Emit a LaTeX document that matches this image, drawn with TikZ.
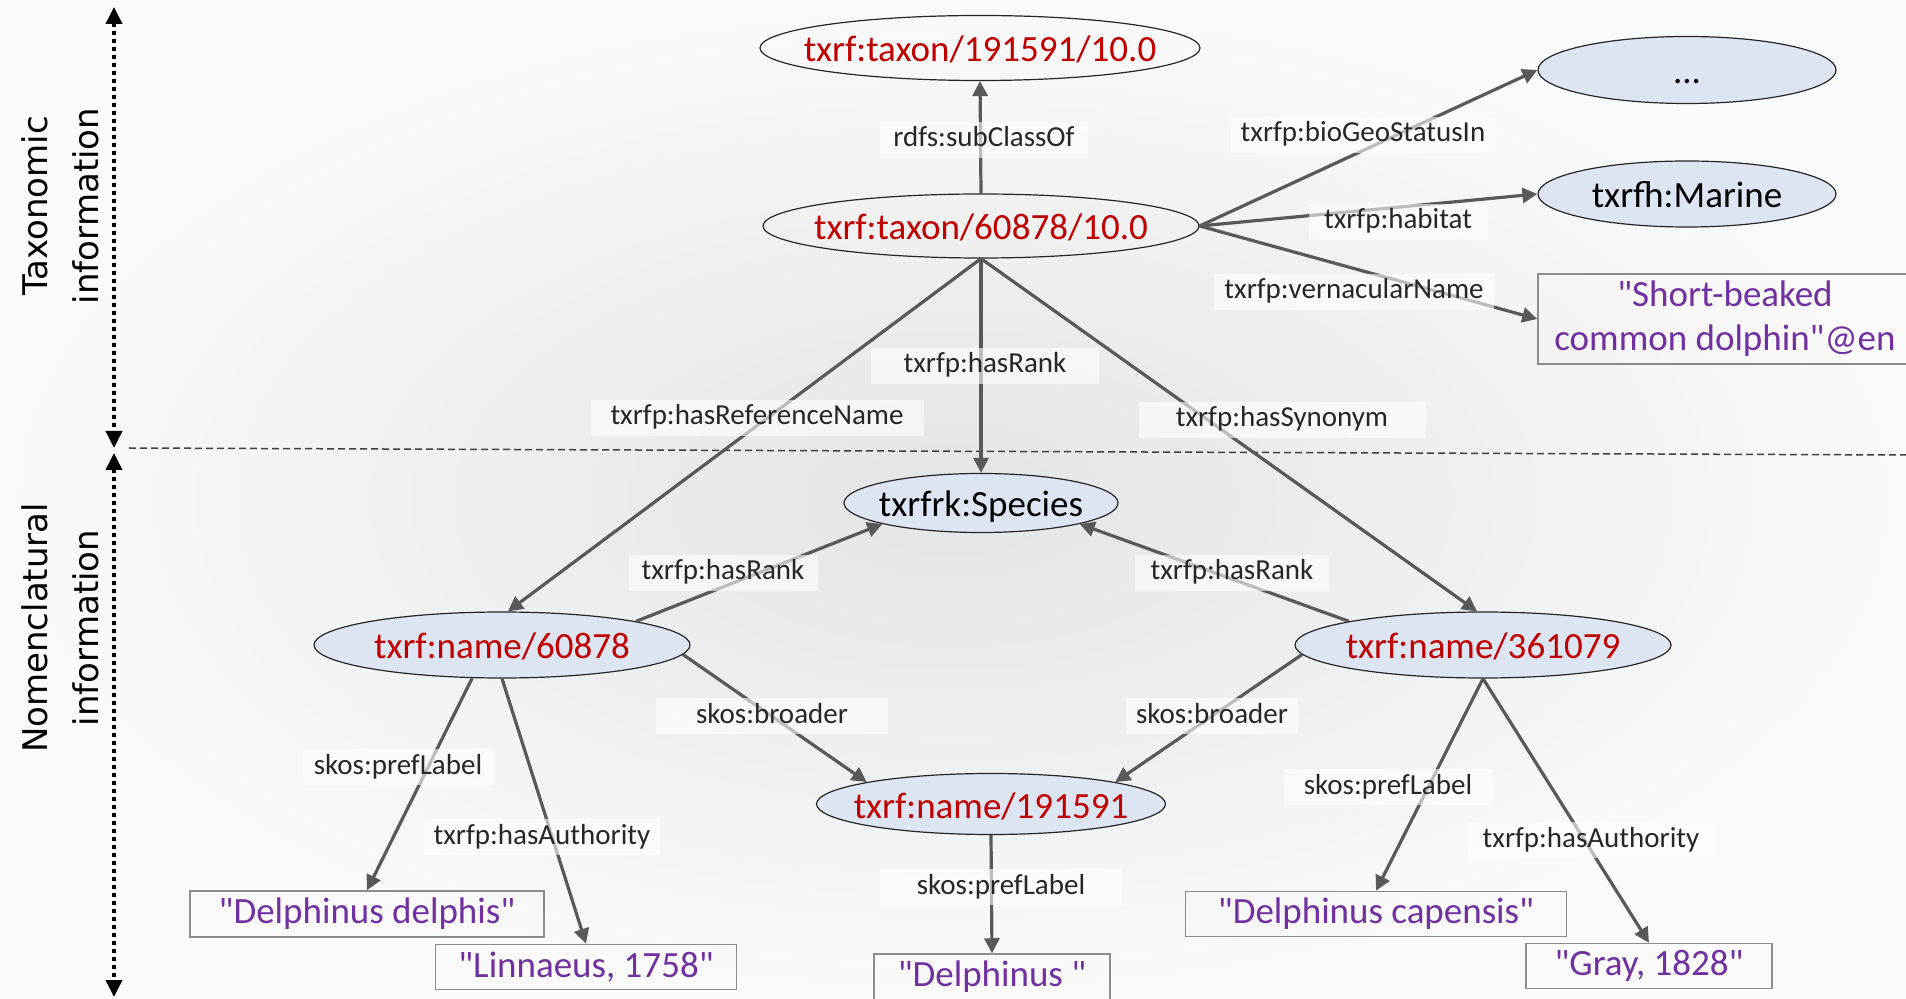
\documentclass[tikz,border=0pt]{standalone}
\usepackage{fontspec}
\setmainfont{Carlito}
\newfontfamily\calfont{Carlito}
\newfontfamily\sidefont{DejaVu Sans}
\usetikzlibrary{arrows.meta,shapes.geometric}
\definecolor{bgin}{RGB}{228,228,228}
\definecolor{bgout}{RGB}{250,250,250}
\definecolor{nodefill}{RGB}{220,229,241}
\definecolor{uri}{RGB}{192,0,0}
\definecolor{lit}{RGB}{112,48,160}
\definecolor{edgec}{RGB}{89,89,89}
\definecolor{boxc}{RGB}{140,140,140}
\newcommand\zw[1]{\makebox[0pt]{#1}}
\begin{document}
\begin{tikzpicture}[x=0.5pt,y=-0.5pt,
  ell/.style={ellipse, draw=black!85, line width=0.6pt, inner sep=0pt, text height=15pt, text depth=1pt, font=\calfont\fontsize{18.5}{22}\selectfont},
  res/.style={ell, fill=nodefill},
  litbox/.style={rectangle, draw=boxc, line width=0.75pt, inner sep=0pt, text=lit, align=center, font=\calfont\fontsize{18.5}{22}\selectfont},
  lbl/.style={fill=white, fill opacity=0.6, text opacity=1, text=black!85, inner xsep=5pt, inner ysep=2pt, text height=10.5pt, text depth=3.5pt, font=\calfont\fontsize{14.5}{17}\selectfont},
  rel/.style={draw=edgec, line width=1.6pt, -{Triangle[width=7.5pt,length=7.5pt]}},
  sidelbl/.style={rotate=90, align=center, font=\sidefont\fontsize{17}{25.5}\selectfont},
  sidearrow/.style={line width=1.8pt, dash pattern=on 2pt off 2pt, {Triangle[width=8pt,length=8.5pt]}-{Triangle[width=8pt,length=8.5pt]}},
  divider/.style={draw=black!75, line width=0.75pt, dash pattern=on 3.5pt off 2pt},
]
\useasboundingbox (0,0) rectangle (1906,999);
\shade[inner color=bgin, outer color=bgout] (0,0) rectangle (1906,999);

% section markers
\coordinate (a1) at (114,7);
\coordinate (a2) at (114,448);
\coordinate (a3) at (114,453);
\coordinate (a4) at (114,997);
\draw[sidearrow] (a1) -- (a2);
\draw[sidearrow] (a3) -- (a4);
\coordinate (d1) at (129,448);
\coordinate (d2) at (1906,455);
\draw[divider] (d1) -- (d2);
\node[sidelbl] (tax) at (60,206) {Taxonomic\\information};
\node[sidelbl] (nom) at (60,628) {Nomenclatural\\information};

% nodes
\node[ell, text=uri, minimum width=220pt, minimum height=32.5pt] (t191) at (980,48) {\zw{txrf:taxon/191591/10.0}};
\node[ell, text=uri, minimum width=218pt, minimum height=32pt] (t608) at (981,226) {\zw{txrf:taxon/60878/10.0}};
\node[res, minimum width=149pt, minimum height=33.5pt] (dots) at (1687,70) {\zw{...}};
\node[res, minimum width=149pt, minimum height=33pt] (marine) at (1687,194) {\zw{txrfh:Marine}};
\node[litbox, minimum width=187pt, minimum height=45pt] (vern) at (1725,319) {"Short-beaked\\common dolphin"@en};
\node[res, minimum width=137pt, minimum height=29.5pt] (sp) at (981,503) {\zw{txrfrk:Species}};
\node[res, text=uri, minimum width=188pt, minimum height=33pt] (n608) at (502,645) {\zw{txrf:name/60878}};
\node[res, text=uri, minimum width=188pt, minimum height=33pt] (n361) at (1483,645) {\zw{txrf:name/361079}};
\node[res, text=uri, minimum width=174.5pt, minimum height=30.5pt] (n191) at (991,804) {\zw{txrf:name/191591}};
\node[litbox, minimum width=177pt, minimum height=23pt] (dd) at (367,914) {"Delphinus delphis"};
\node[litbox, minimum width=150.5pt, minimum height=22.5pt] (lin) at (586,967) {"Linnaeus, 1758"};
\node[litbox, minimum width=190.5pt, minimum height=22.5pt] (cap) at (1376,914) {"Delphinus capensis"};
\node[litbox, minimum width=123pt, minimum height=22.5pt] (gray) at (1649,966) {"Gray, 1828"};
\node[litbox, minimum width=118pt, minimum height=23pt] (delph) at (992,977) {"Delphinus "};

% edges
\draw[rel] (t608.north) -- (t191.south);
\draw[rel] (t608.east) -- (dots.west);
\draw[rel] (t608.east) -- (marine.west);
\draw[rel] (t608.east) -- (vern.west);
\draw[rel] (t608.south) -- (sp.north);
\draw[rel] (t608.south) -- (n608.80);
\draw[rel] (t608.south) -- (n361.100);
\draw[rel] (n608.10) -- (sp.192);
\draw[rel] (n361.170) -- (sp.-12);
\draw[rel] (n608.-3) -- (n191.170);
\draw[rel] (n361.183) -- (n191.10);
\draw[rel] (n608.-132) -- (dd.north);
\draw[rel] (n608.south) -- (lin.north);
\draw[rel] (n361.south) -- (cap.north);
\draw[rel] (n361.south) -- (gray.north);
\draw[rel] (n191.south) -- (delph.north);

% edge labels
\node[lbl, minimum width=104pt] (l1) at (984,140) {rdfs:subClassOf};
\node[lbl, minimum width=131.5pt] (l2) at (1363,135) {txrfp:bioGeoStatusIn};
\node[lbl, minimum width=89.5pt] (l3) at (1398,222) {txrfp:habitat};
\node[lbl, minimum width=138pt] (l4) at (1354,292) {txrfp:vernacularName};
\node[lbl, minimum width=114pt] (l5) at (985,366) {txrfp:hasRank};
\node[lbl, minimum width=166.5pt] (l6) at (757,418) {txrfp:hasReferenceName};
\node[lbl, minimum width=143.5pt] (l7) at (1282,420) {txrfp:hasSynonym};
\node[lbl, minimum width=94.5pt] (l8) at (723,573) {txrfp:hasRank};
\node[lbl, minimum width=97pt] (l9) at (1232,573) {txrfp:hasRank};
\node[lbl, minimum width=116pt] (l10) at (772,716) {skos:broader};
\node[lbl, minimum width=85.5pt] (l11) at (1212,716) {skos:broader};
\node[lbl, minimum width=95.5pt] (l12) at (398,767) {skos:prefLabel};
\node[lbl, minimum width=117.5pt] (l13) at (542,837) {txrfp:hasAuthority};
\node[lbl, minimum width=121pt] (l14) at (1001,887) {skos:prefLabel};
\node[lbl, minimum width=104.5pt] (l15) at (1388,787) {skos:prefLabel};
\node[lbl, minimum width=123pt] (l16) at (1591,840) {txrfp:hasAuthority};
\end{tikzpicture}
\end{document}
